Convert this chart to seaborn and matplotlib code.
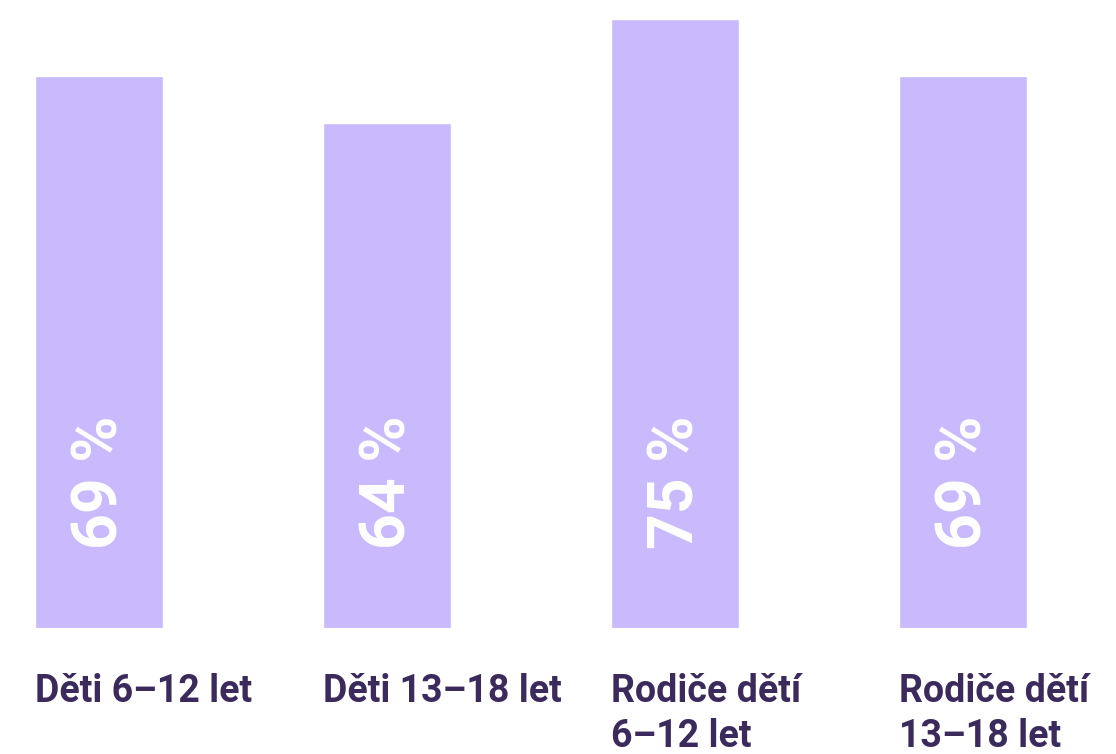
import matplotlib
matplotlib.use("Agg")
import matplotlib.pyplot as plt
import matplotlib.transforms as mtransforms
import seaborn as sns
import pandas as pd

# data
groups = ["Děti 6–12 let", "Děti 13–18 let", "Rodiče dětí 6–12 let", "Rodiče dětí 13–18 let"]
labels = ["Děti 6–12 let", "Děti 13–18 let", "Rodiče dětí\n6–12 let", "Rodiče dětí\n13–18 let"]
values = [69, 64, 75, 69]

bar_color = "#c8bafd"
text_color = "#3b2a5c"

sns.set_theme(style="white")
plt.rcParams['font.family'] = ['Roboto', 'DejaVu Sans']

df = pd.DataFrame({"group": groups, "value": values})

fig = plt.figure(figsize=(11.16, 7.54), dpi=100)
ax = fig.add_axes([0, 126 / 754, 1, 628 / 754])

bar_w = 0.444
sns.barplot(data=df, x="group", y="value", color=bar_color, saturation=1,
            width=bar_w, ax=ax)

ax.set_xlim(-0.344, 3.531)
ax.set_ylim(10.8, 77)

ax.set_xlabel("")
ax.set_ylabel("")
ax.set_xticks([])
ax.set_yticks([])
for s in ax.spines.values():
    s.set_visible(False)

trans = mtransforms.blended_transform_factory(ax.transData, ax.transAxes)

# values written inside bars, rotated
for i, v in enumerate(values):
    ax.text(i + 0.005, 0.232, f"{v} %", transform=trans, rotation=90,
            rotation_mode="anchor", ha="center", va="center",
            color="white", fontsize=45, fontweight="bold")

# category labels, left aligned under each bar
for i, lab in enumerate(labels):
    ax.text(i - bar_w / 2, -0.071, lab, transform=trans, ha="left",
            va="top", color=text_color, fontsize=27, fontweight="bold",
            linespacing=1.3, clip_on=False)

fig.savefig("out.png", dpi=100, facecolor="white")
